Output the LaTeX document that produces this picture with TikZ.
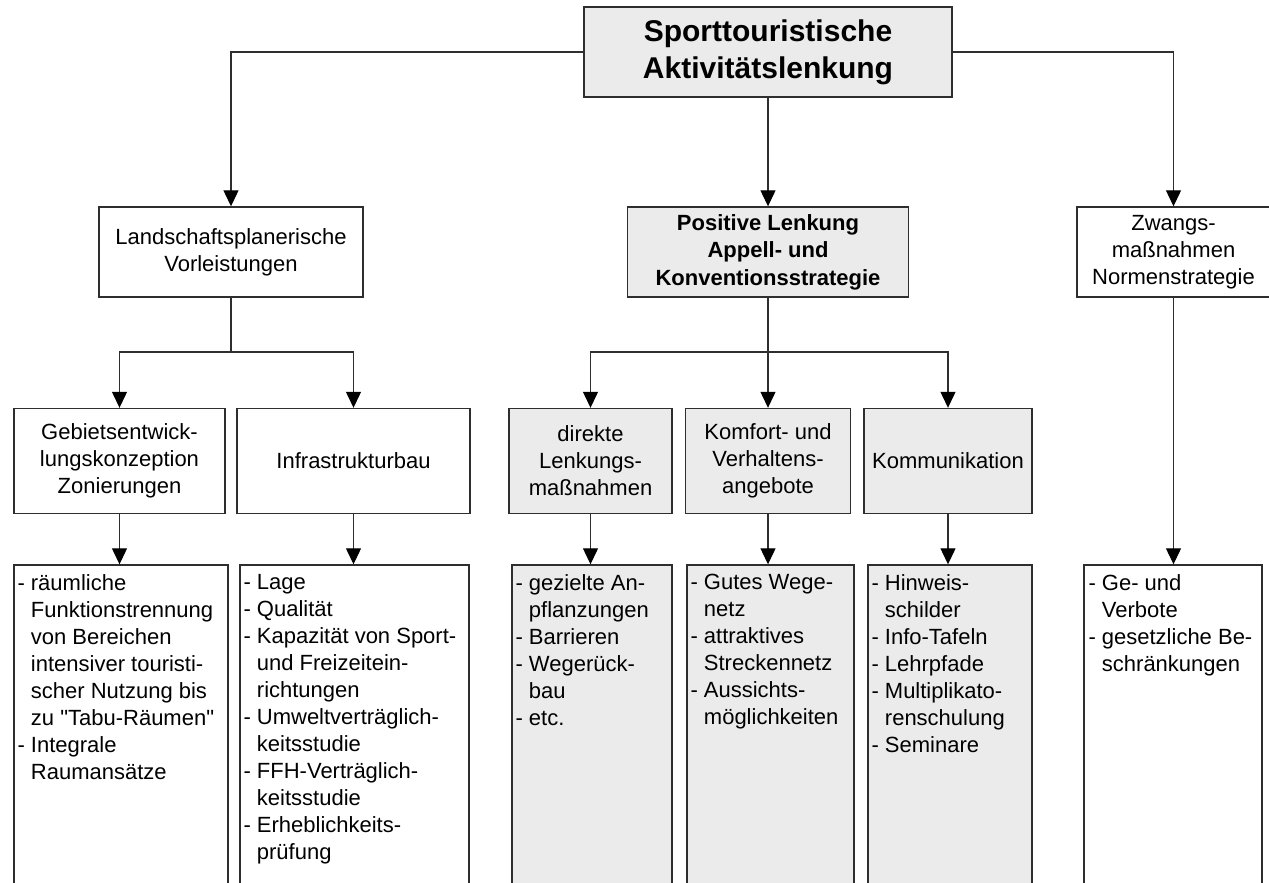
\documentclass[tikz,border=0pt]{standalone}
\usepackage{fontspec}
\setmainfont{Liberation Sans}[Ligatures=TeXOff]
\usetikzlibrary{arrows.meta}
\definecolor{boxfill}{HTML}{EBEBEB}
\definecolor{linecol}{HTML}{2E2E2E}
\newcommand\ind{\hphantom{-\ }}
\begin{document}
\begin{tikzpicture}[x=1pt,y=-1pt,
  box/.style={draw=linecol, line width=1.4pt, rectangle, inner sep=0pt,
    font=\fontsize{22}{27}\selectfont, align=center},
  gbox/.style={box, fill=boxfill},
  wbox/.style={box, fill=white},
  lst/.style={font=\fontsize{22}{27}\selectfont, align=left, inner sep=0pt, anchor=north west},
  ln/.style={draw=linecol, line width=1.2pt},
  arr/.style={ln, -{Triangle[length=16pt,width=15pt,color=black]}},
]
\useasboundingbox (0,0) rectangle (1269,883);

% level 0
\node[gbox, minimum width=368pt, minimum height=90pt,
  font=\fontsize{30}{37}\selectfont\bfseries] (top) at (768,52)
  {Sporttouristische\\Aktivitätslenkung};

% level 1
\node[wbox, minimum width=264pt, minimum height=90pt] (land) at (231,252)
  {Landschaftsplanerische\\Vorleistungen};
\node[gbox, minimum width=281pt, minimum height=90pt,
  font=\fontsize{22}{27.5}\selectfont\bfseries] (pos) at (768,252)
  {Positive Lenkung\\Appell- und\\Konventionsstrategie};
\node[wbox, minimum width=193pt, minimum height=90pt] (zw) at (1173.5,252)
  {Zwangs-\\maßnahmen\\Normenstrategie};

% level 2
\node[wbox, minimum width=211pt, minimum height=105pt] (geb) at (119.5,461)
  {Gebietsentwick-\\lungskonzeption\\Zonierungen};
\node[wbox, minimum width=233pt, minimum height=105pt] (inf) at (353.5,461)
  {Infrastrukturbau};
\node[gbox, minimum width=163pt, minimum height=105pt] (dir) at (590.5,461)
  {direkte\\Lenkungs-\\maßnahmen};
\node[gbox, minimum width=165pt, minimum height=105pt] (kmf) at (768,461)
  {Komfort- und\\Verhaltens-\\angebote};
\node[gbox, minimum width=168pt, minimum height=105pt] (kom) at (948,461)
  {Kommunikation};

% level 3 boxes (continue below the page)
\node[wbox, minimum width=214pt, minimum height=340pt] (gebl) at (121,735) {};
\node[wbox, minimum width=229pt, minimum height=340pt] (infl) at (354.5,735) {};
\node[gbox, minimum width=160pt, minimum height=340pt] (dirl) at (592,735) {};
\node[gbox, minimum width=167pt, minimum height=340pt] (kmfl) at (770.5,735) {};
\node[gbox, minimum width=164pt, minimum height=340pt] (koml) at (950,735) {};
\node[wbox, minimum width=178pt, minimum height=340pt] (zwl) at (1173,735) {};

\node[lst] (gebt) at ([shift={(4,10)}]gebl.north west)
  {- räumliche\\\ind Funktionstrennung\\\ind von Bereichen\\\ind intensiver touristi-\\\ind scher Nutzung bis\\\ind zu "Tabu-Räumen"\\- Integrale\\\ind Raumansätze};
\node[lst] (inft) at ([shift={(4,10)}]infl.north west)
  {- Lage\\- Qualität\\- Kapazität von Sport-\\\ind und Freizeitein-\\\ind richtungen\\- Umweltverträglich-\\\ind keitsstudie\\- FFH-Verträglich-\\\ind keitsstudie\\- Erheblichkeits-\\\ind prüfung};
\node[lst] (dirt) at ([shift={(4,10)}]dirl.north west)
  {- gezielte An-\\\ind pflanzungen\\- Barrieren\\- Wegerück-\\\ind bau\\- etc.};
\node[lst] (kmft) at ([shift={(4,10)}]kmfl.north west)
  {- Gutes Wege-\\\ind netz\\- attraktives\\\ind Streckennetz\\- Aussichts-\\\ind möglichkeiten};
\node[lst] (komt) at ([shift={(4,10)}]koml.north west)
  {- Hinweis-\\\ind schilder\\- Info-Tafeln\\- Lehrpfade\\- Multiplikato-\\\ind renschulung\\- Seminare};
\node[lst] (zwt) at ([shift={(5,10)}]zwl.north west)
  {- Ge- und\\\ind Verbote\\- gesetzliche Be-\\\ind schränkungen};

% connectors level 0 -> 1
\draw[arr] (top.west) -| (land.north);
\draw[arr] (top.south) -- (pos.north);
\draw[arr] (top.east) -| (zw.north);

% level 1 -> 2
\coordinate (lsplit) at (231,352);
\coordinate (psplit) at (768,352);
\draw[ln] (land.south) -- (lsplit);
\draw[arr] (lsplit) -| (geb.north);
\draw[arr] (lsplit) -| (inf.north);
\draw[ln] (pos.south) -- (psplit);
\draw[arr] (psplit) -| (dir.north);
\draw[arr] (psplit) -- (kmf.north);
\draw[arr] (psplit) -| (kom.north);

% level 2 -> 3
\draw[arr] (geb.south) -- (geb.south |- gebl.north);
\draw[arr] (inf.south) -- (inf.south |- infl.north);
\draw[arr] (dir.south) -- (dir.south |- dirl.north);
\draw[arr] (kmf.south) -- (kmf.south |- kmfl.north);
\draw[arr] (kom.south) -- (kom.south |- koml.north);
\draw[arr] (zw.south) -- (zw.south |- zwl.north);
\end{tikzpicture}
\end{document}
